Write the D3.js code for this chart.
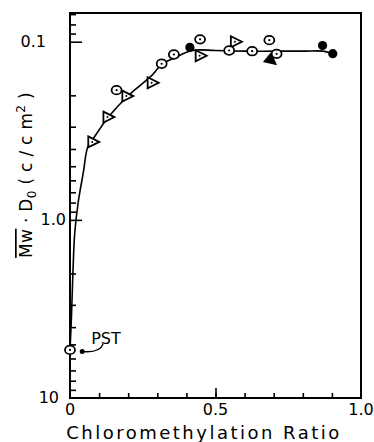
<!DOCTYPE html>
<html>
<head>
<meta charset="utf-8">
<script src="https://cdn.jsdelivr.net/npm/d3@7"></script>
<style>
  body { margin: 0; background: #fff; }
  svg { display: block; font-family: "DejaVu Sans", sans-serif; }
</style>
</head>
<body>
<div id="chart"></div>
<script>
// values (x = chloromethylation ratio, y = Mw*D0 in c/cm2)
var openCircleX = [0, 0.160, 0.315, 0.357, 0.447, 0.547, 0.626, 0.685, 0.710];
var openCircleY = [5.37, 0.187, 0.133, 0.118, 0.097, 0.112, 0.113, 0.098, 0.117];
var openTriX = [0.080, 0.132, 0.197, 0.284, 0.449, 0.570];
var openTriY = [0.365, 0.265, 0.202, 0.170, 0.120, 0.100];
var filledCircleX = [0.042, 0.412, 0.868, 0.903];
var filledCircleY = [5.49, 0.1076, 0.105, 0.1167];
var filledTriX = [0.693];
var filledTriY = [0.128];
// hand drawn trend curve
var curveX = [0, 0.005, 0.01, 0.016, 0.028, 0.046, 0.061, 0.08, 0.132, 0.197, 0.284, 0.315, 0.36, 0.42, 0.5, 0.6, 0.7, 0.8, 0.87, 0.903];
var curveY = [5.4, 3.5, 2.0, 1.2, 0.8, 0.54, 0.39, 0.35, 0.265, 0.203, 0.153, 0.134, 0.123, 0.112, 0.112, 0.113, 0.113, 0.113, 0.113, 0.117];

var xTicks = [0, 0.5, 1.0];
var xTickLabels = ["0", "0.5", "1.0"];
var yTicks = [0.1, 1, 10];
var yTickLabels = ["0.1", "1.0", "10"];

var width = 374, height = 442;
var pLeft = 70, pRight = 361, pTop = 13, pBottom = 398;

var svg = d3.select('#chart').append('svg').attr('width', width).attr('height', height);

var x = d3.scaleLinear().domain([0, 1]).range([pLeft, pRight]);
var y = d3.scaleLog().domain([0.069, 10]).range([pTop, pBottom]);

function zip(a, b) { return a.map(function (d, i) { return [d, b[i]]; }); }

// minor + major ticks, drawn inward
var minorY = [];
[0.01, 0.1, 1].forEach(function (dec) {
  for (var k = 2; k <= 9; k++) {
    var v = dec * k;
    if (v >= 0.069 && v < 10) minorY.push(v);
  }
});
svg.append('g').call(d3.axisRight(y).tickValues(minorY).tickSize(6).tickFormat(''))
  .attr('transform', 'translate(' + pLeft + ',0)');
svg.append('g').call(d3.axisRight(y).tickValues([0.1, 1]).tickSize(12).tickFormat(''))
  .attr('transform', 'translate(' + pLeft + ',0)');
svg.append('g').call(d3.axisTop(x).tickValues(d3.range(0.1, 1, 0.1)).tickSize(5).tickFormat(''))
  .attr('transform', 'translate(0,' + pBottom + ')');
svg.append('g').call(d3.axisTop(x).tickValues([0.5]).tickSize(10).tickFormat(''))
  .attr('transform', 'translate(0,' + pBottom + ')');
svg.selectAll('.domain').remove();
svg.selectAll('.tick line').attr('stroke', '#000').attr('stroke-width', 1.6);

// frame
svg.append('rect').attr('x', pLeft).attr('y', pTop).attr('width', pRight - pLeft).attr('height', pBottom - pTop)
  .attr('fill', 'none').attr('stroke', '#000').attr('stroke-width', 2);

// tick labels
svg.selectAll('.xlab').data(xTicks).enter().append('text')
  .attr('x', function (d) { return x(d); })
  .attr('y', 415)
  .attr('text-anchor', 'middle')
  .attr('font-size', 16)
  .text(function (d, i) { return xTickLabels[i]; });

var yLabRight = [46, 66, 59];
svg.selectAll('.ylab').data(yTicks).enter().append('text')
  .attr('x', function (d, i) { return yLabRight[i]; })
  .attr('y', function (d) { return y(d) + 5; })
  .attr('text-anchor', 'end')
  .attr('font-size', 16)
  .text(function (d, i) { return yTickLabels[i]; });

// axis titles
svg.append('text').attr('x', 204).attr('y', 439).attr('text-anchor', 'middle')
  .attr('font-size', 18).attr('letter-spacing', 2.5)
  .text('Chloromethylation Ratio');

var yt = svg.append('text').attr('transform', 'translate(32,175) rotate(-90)')
  .attr('text-anchor', 'middle').attr('font-size', 17).attr('letter-spacing', 0.3);
yt.append('tspan').attr('text-decoration', 'overline').text('Mw');
yt.append('tspan').text(' \u00B7 D');
yt.append('tspan').attr('font-size', 12).attr('dy', 4).text('0');
yt.append('tspan').attr('dy', -4).text(' ( c / c m');
yt.append('tspan').attr('font-size', 12).attr('dy', -7).text('2');
yt.append('tspan').attr('dy', 7).text(' )');

// trend curve
var line = d3.line().x(function (d) { return x(d[0]); }).y(function (d) { return y(d[1]); })
  .curve(d3.curveCatmullRom.alpha(0.5));
svg.append('path').datum(zip(curveX, curveY)).attr('d', line)
  .attr('fill', 'none').attr('stroke', '#000').attr('stroke-width', 1.6);

// PST label and leader
var pst = [x(filledCircleX[0]), y(filledCircleY[0])];
svg.append('path')
  .attr('d', 'M' + (pst[0] + 2) + ',' + pst[1] + ' Q' + (pst[0] + 18) + ',' + (pst[1] + 1) + ' ' + (pst[0] + 21) + ',' + (pst[1] - 8))
  .attr('fill', 'none').attr('stroke', '#000').attr('stroke-width', 1.4);
svg.append('text').attr('x', pst[0] + 9).attr('y', pst[1] - 8).attr('font-size', 16).text('PST');

// markers
var triPath = 'M-5,-5.5L6,0L-5,5.5Z';
svg.selectAll('.ftri').data(zip(filledTriX, filledTriY)).enter().append('path')
  .attr('d', 'M-6,-6.5L7,0L-6,6.5Z')
  .attr('transform', function (d) { return 'translate(' + x(d[0]) + ',' + y(d[1]) + ') rotate(40)'; })
  .attr('fill', '#000');

svg.selectAll('.otri').data(zip(openTriX, openTriY)).enter().append('g')
  .attr('transform', function (d) { return 'translate(' + x(d[0]) + ',' + y(d[1]) + ')'; })
  .each(function () {
    var g = d3.select(this);
    g.append('path').attr('d', triPath).attr('fill', '#fff').attr('stroke', '#000').attr('stroke-width', 1.8);
    g.append('circle').attr('cx', -1).attr('r', 1).attr('fill', '#000');
  });

svg.selectAll('.ocirc').data(zip(openCircleX, openCircleY)).enter().append('g')
  .attr('transform', function (d) { return 'translate(' + x(d[0]) + ',' + y(d[1]) + ')'; })
  .each(function () {
    var g = d3.select(this);
    g.append('ellipse').attr('rx', 5).attr('ry', 4.3).attr('fill', '#fff').attr('stroke', '#000').attr('stroke-width', 1.8);
    g.append('circle').attr('r', 1.1).attr('fill', '#000');
  });

svg.selectAll('.fcirc').data(zip(filledCircleX, filledCircleY)).enter().append('circle')
  .attr('cx', function (d) { return x(d[0]); })
  .attr('cy', function (d) { return y(d[1]); })
  .attr('r', function (d, i) { return i === 0 ? 2.5 : 4.6; })
  .attr('fill', '#000');
</script>
</body>
</html>
